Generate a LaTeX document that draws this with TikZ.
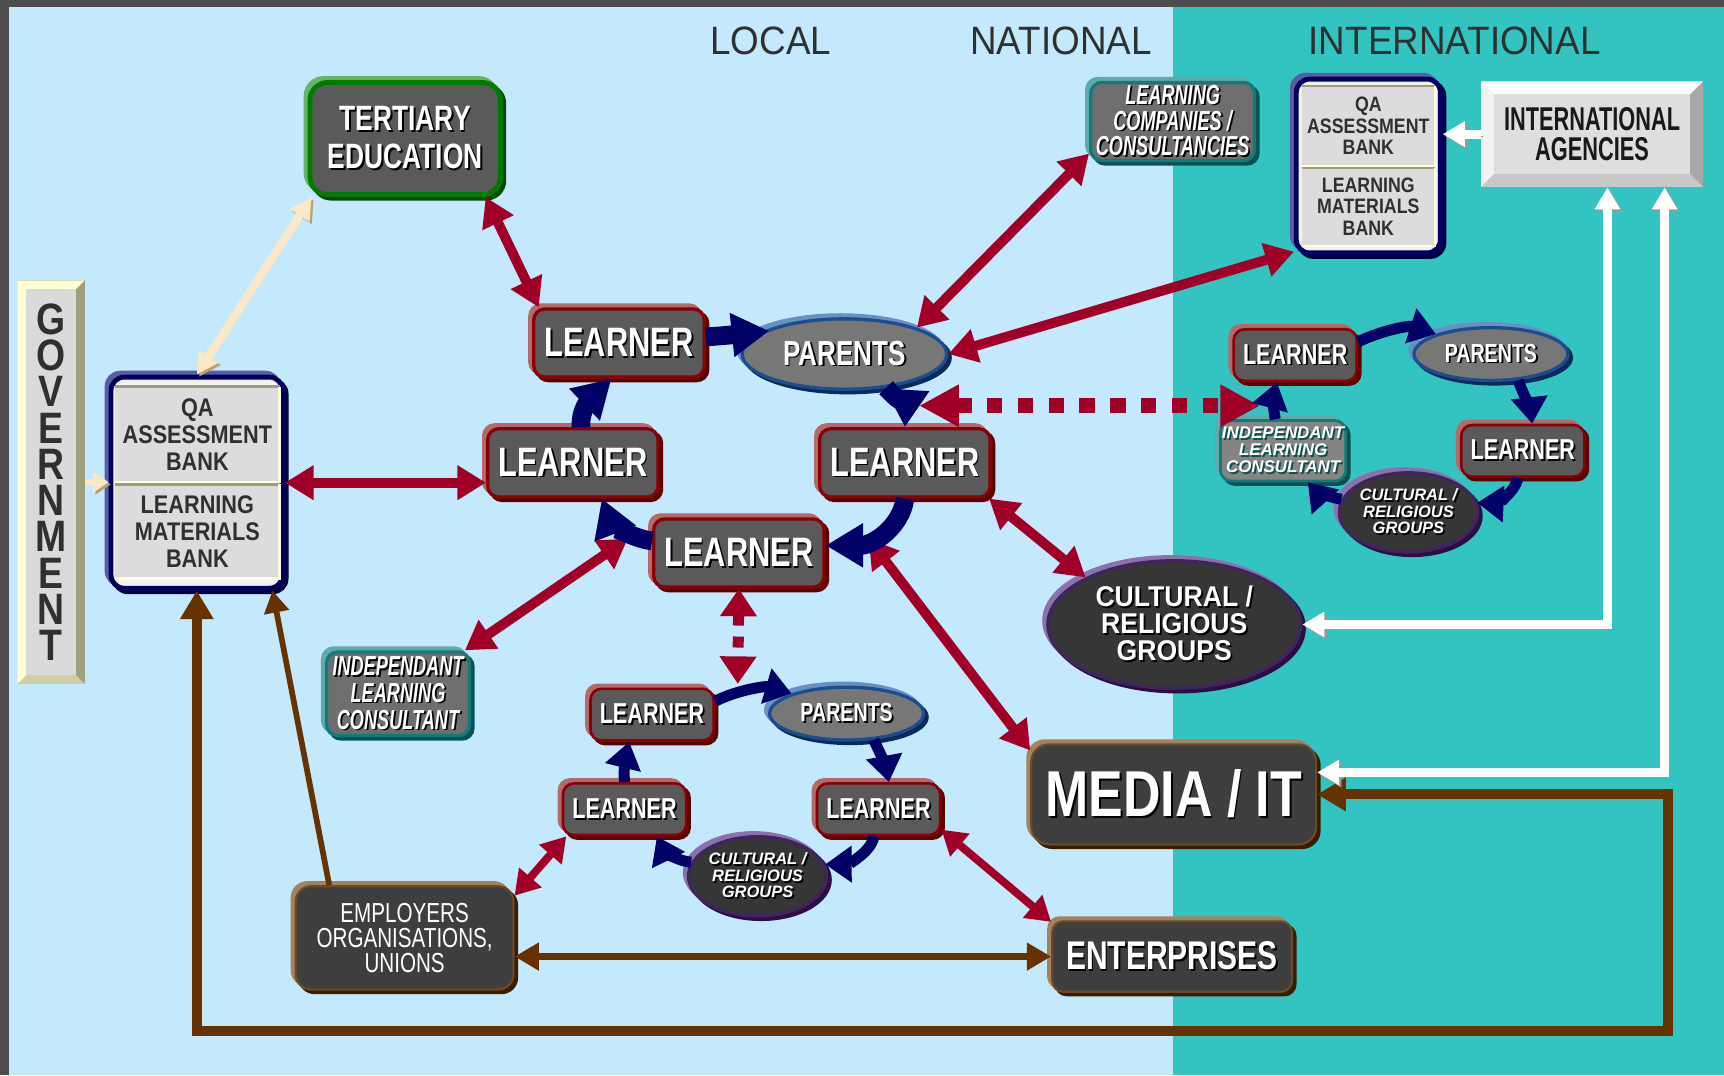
\documentclass[tikz,border=0pt]{standalone}
\usepackage{fontspec}
\setmainfont{Liberation Sans}
\newfontfamily\fC{Liberation Sans}[FakeStretch=0.75]
\newfontfamily\fN{Liberation Sans}[FakeStretch=0.85]
\newfontfamily\fX{Liberation Sans}[FakeStretch=0.66]
\newfontfamily\fH{Liberation Sans}[FakeStretch=0.93]
\newfontfamily\fM{Liberation Sans}[FakeStretch=0.8]
\usetikzlibrary{arrows.meta,shapes.geometric}
\definecolor{bgblue}{HTML}{C4E8FC}
\definecolor{tealbg}{HTML}{33C3C0}
\definecolor{frame}{HTML}{4D4D4D}
\definecolor{redA}{HTML}{A00028}
\definecolor{navyA}{HTML}{000066}
\definecolor{brownA}{HTML}{663300}
\definecolor{creamA}{HTML}{FAE8C8}
\definecolor{creamS}{HTML}{B8A078}
\definecolor{whiteS}{HTML}{9A9A9A}
\definecolor{boxgray}{HTML}{5A5A5A}
\definecolor{lred}{HTML}{8A0008}
\definecolor{lredhl}{HTML}{B46A6A}
\definecolor{lredsh}{HTML}{5C0000}
\definecolor{grn}{HTML}{007A00}
\definecolor{grnhl}{HTML}{66B466}
\definecolor{grnsh}{HTML}{004A00}
\definecolor{tl}{HTML}{137A7A}
\definecolor{tlhl}{HTML}{62AAAA}
\definecolor{tlsh}{HTML}{0A5252}
\definecolor{tlfill}{HTML}{6E6E6E}
\definecolor{pb}{HTML}{1D4D8E}
\definecolor{pbhl}{HTML}{6990C2}
\definecolor{pbsh}{HTML}{0A2A5A}
\definecolor{pfill}{HTML}{777777}
\definecolor{pu}{HTML}{40245E}
\definecolor{puhl}{HTML}{8C72AA}
\definecolor{push}{HTML}{2A0E44}
\definecolor{cfill}{HTML}{363636}
\definecolor{tanA}{HTML}{A3825F}
\definecolor{tanB}{HTML}{6A4A2A}
\definecolor{tansh}{HTML}{3C1C00}
\definecolor{mfill}{HTML}{3E3E3E}
\definecolor{nv}{HTML}{00005E}
\definecolor{nvhl}{HTML}{5A5CA4}
\definecolor{nvsh}{HTML}{000040}
\definecolor{qain}{HTML}{F2F2F2}
\definecolor{panel}{HTML}{DCDCDC}
\definecolor{olv}{HTML}{A09C78}
\definecolor{crm}{HTML}{FFFFE0}
\definecolor{txt}{HTML}{303030}
\definecolor{govlt}{HTML}{FFFFD4}
\definecolor{govdk}{HTML}{A0A07E}
\definecolor{govbt}{HTML}{CFCFA6}
\definecolor{govin}{HTML}{DADADA}
\definecolor{iaR}{HTML}{A8A8A8}
\definecolor{iaB}{HTML}{C8C8C8}
\definecolor{iaL}{HTML}{F2F2F2}
\definecolor{iaIn}{HTML}{DEDEDE}
\definecolor{milcfill}{HTML}{858585}
\newcommand\sh[2][black]{\leavevmode\rlap{\kern0.8pt\raisebox{-0.8pt}{\textcolor{#1}{#2}}}#2}
\tikzset{
  b3d/.style n args={3}{draw=#1,
     preaction={fill=#2,draw=#2,transform canvas={shift={(-1.8pt,1.8pt)}}},
     preaction={fill=#3,draw=#3,transform canvas={shift={(1.6pt,-1.6pt)}}}},
  rb/.style={rectangle, rounded corners=5pt, inner sep=0pt, align=center, text=white},
  head/.style={font=\fH\fontsize{18}{20}\selectfont, text=txt, inner sep=0pt},
  learner/.style={rb, fill=boxgray, line width=1.5pt, b3d={lred}{lredhl}{lredsh},
     minimum width=77.5pt, minimum height=31pt, font=\fC\bfseries\fontsize{18.7}{20}\selectfont},
  mlearner/.style={rb, fill=boxgray, line width=1.2pt, b3d={lred}{lredhl}{lredsh},
     minimum width=56pt, minimum height=23.5pt, font=\fC\bfseries\fontsize{13.1}{14}\selectfont},
  par/.style={ellipse, inner sep=0pt, fill=pfill, line width=1.5pt, b3d={pb}{pbhl}{pbsh}, text=white},
  cultst/.style={ellipse, inner sep=0pt, fill=cfill, line width=1.5pt, b3d={pu}{puhl}{push}, text=white, align=center},
  tbox/.style={rb, fill=tlfill, line width=1.5pt, b3d={tl}{tlhl}{tlsh}},
  dbox/.style={rb, fill=mfill, line width=1pt, b3d={tanB}{tanA}{tansh}},
  qabox/.style={rectangle, rounded corners=6pt, inner sep=0pt, fill=qain, line width=2.2pt, b3d={nv}{nvhl}{nvsh}},
  pnl/.style={rectangle, fill=panel, inner sep=0pt, align=center, text=txt},
  redarr/.style={draw=redA, line width=4.5pt, >={Triangle[length=13pt,width=15pt]}},
  redsm/.style={draw=redA, line width=3.6pt, >={Triangle[length=11pt,width=13pt]}},
  navyM/.style={draw=navyA, line width=8.5pt, -{Triangle[length=17pt,width=19pt]}},
  navyS/.style={draw=navyA, line width=5pt, -{Triangle[length=12pt,width=16pt]}},
  dashR/.style={draw=redA, line width=7pt, dash pattern=on 7pt off 7pt, >={Triangle[length=18pt,width=18pt]}},
  dashV/.style={draw=redA, line width=5pt, dash pattern=on 5pt off 5pt, >={Triangle[length=12.5pt,width=16pt]}},
  wht/.style={draw=white, line width=4pt, preaction={draw=whiteS, transform canvas={shift={(1pt,-1pt)}}}, >={Triangle[length=10pt,width=11pt]}},
  crmA/.style={draw=creamA, line width=3.8pt, preaction={draw=creamS, transform canvas={shift={(1pt,-1pt)}}}, >={Triangle[length=10pt,width=10pt]}},
  brn/.style={draw=brownA, >={Triangle[length=13pt,width=14.5pt]}}
}
\begin{document}
\begin{tikzpicture}[x=0.5pt,y=-0.5pt]
\useasboundingbox (0,0) rectangle (1568,978);
\fill[bgblue] (0,0) rectangle (1568,978);
\fill[tealbg] (1067,0) rectangle (1568,978);
\fill[frame] (0,0) rectangle (1568,6);
\fill[frame] (0,0) rectangle (8,978);

% headings
\node[head] (hL) at (701,37) {LOCAL};
\node[head] (hN) at (965,37) {NATIONAL};
\node[head] (hI) at (1323,37) {INTERNATIONAL};

% government
\fill[govdk] (16,255) rectangle (77,622);
\fill[govbt] (16,622) -- (24,614) -- (69,614) -- (77,622) -- cycle;
\fill[govlt] (16,255) -- (77,255) -- (69,263) -- (24,263) -- (24,614) -- (16,622) -- cycle;
\fill[govin] (24,263) rectangle (69,614);
\node[font=\fN\bfseries\fontsize{20}{16.5}\selectfont, text=txt, align=center, minimum width=30.5pt, minimum height=183.5pt, inner sep=0pt] (gov) at (46.5,438.5) {G\\O\\V\\E\\R\\N\\M\\E\\N\\T};

% international agencies
\fill[iaR] (1347,74) rectangle (1549,170);
\fill[iaB] (1347,170) -- (1359,158) -- (1537,158) -- (1549,170) -- cycle;
\fill[white] (1347,74) -- (1549,74) -- (1537,86) -- (1359,86) -- cycle;
\fill[iaL] (1347,74) -- (1359,86) -- (1359,158) -- (1347,170) -- cycle;
\fill[iaIn] (1359,86) rectangle (1537,158);
\node[font=\fX\bfseries\fontsize{15}{14}\selectfont, text=black!90, align=center, minimum width=101pt, minimum height=48pt, inner sep=0pt] (ia) at (1448,122) {INTERNATIONAL\\AGENCIES};

% QA banks
\node[qabox, minimum width=78pt, minimum height=96pt] (qa) at (179,439) {};
\node[pnl, minimum width=74.5pt, minimum height=43pt, font=\fN\bfseries\fontsize{11.6}{12.25}\selectfont] (qa1) at (179.5,395) {QA\\ASSESSMENT\\BANK};
\node[pnl, minimum width=74.5pt, minimum height=42.5pt, font=\fN\bfseries\fontsize{11.6}{12.25}\selectfont] (qa2) at (179.5,483.5) {LEARNING\\MATERIALS\\BANK};
\draw[olv, line width=1.2pt] (qa1.north west) -- (qa1.north east);
\draw[crm, line width=1.2pt] (qa1.north east) -- (qa1.south east) -- (qa1.south west);
\draw[olv, line width=1.2pt] (qa2.north west) -- (qa2.north east);
\draw[crm, line width=1.2pt] (qa2.north east) -- (qa2.south east) -- (qa2.south west);

\node[qabox, minimum width=65.5pt, minimum height=79pt] (qaR) at (1244.5,151) {};
\node[pnl, minimum width=60pt, minimum height=36pt, font=\fN\bfseries\fontsize{9.5}{9.75}\selectfont] (qaR1) at (1244.5,114.5) {QA\\ASSESSMENT\\BANK};
\node[pnl, minimum width=60pt, minimum height=35pt, font=\fN\bfseries\fontsize{9.5}{9.75}\selectfont] (qaR2) at (1244.5,188) {LEARNING\\MATERIALS\\BANK};
\draw[olv, line width=1pt] (qaR1.north west) -- (qaR1.north east);
\draw[crm, line width=1pt] (qaR1.north east) -- (qaR1.south east) -- (qaR1.south west);
\draw[olv, line width=1pt] (qaR2.north west) -- (qaR2.north east);
\draw[crm, line width=1pt] (qaR2.north east) -- (qaR2.south east) -- (qaR2.south west);

% tertiary
\node[rb, fill=boxgray, line width=2.2pt, b3d={grn}{grnhl}{grnsh}, rounded corners=8pt, minimum width=86.5pt, minimum height=51pt, font=\fC\bfseries\fontsize{16}{17.5}\selectfont] (tert) at (368.5,126) {\sh{TERTIARY}\\\sh{EDUCATION}};

% teal boxes
\node[tbox, minimum width=74.5pt, minimum height=35.5pt, font=\fX\bfseries\itshape\fontsize{12.5}{11.75}\selectfont] (LC) at (1066.5,110.5) {\sh{LEARNING}\\\sh{COMPANIES /}\\\sh{CONSULTANCIES}};
\node[tbox, minimum width=65pt, minimum height=38pt, font=\fX\bfseries\itshape\fontsize{12.5}{12.25}\selectfont] (ilc) at (362,631) {\sh{INDEPENDANT}\\\sh{LEARNING}\\\sh{CONSULTANT}};
\node[tbox, fill=milcfill, line width=1.2pt, minimum width=57pt, minimum height=27.5pt, font=\bfseries\itshape\fontsize{7.7}{7.75}\selectfont] (milc) at (1167,410) {\sh[tlsh]{INDEPENDANT}\\\sh[tlsh]{LEARNING}\\\sh[tlsh]{CONSULTANT}};

% main cycle
\node[learner] (L1) at (563,312) {\sh{LEARNER}};
\node[learner] (L2) at (521,421) {\sh{LEARNER}};
\node[learner] (L3) at (823,421) {\sh{LEARNER}};
\node[learner] (L4) at (672,503) {\sh{LEARNER}};
\node[par, minimum width=93pt, minimum height=32pt, font=\fC\bfseries\fontsize{15.8}{17}\selectfont] (P) at (768,322) {\sh{PARENTS}};

% right mini cycle
\node[mlearner] (mR1) at (1178,323) {\sh{LEARNER}};
\node[mlearner] (mR2) at (1385,410) {\sh{LEARNER}};
\node[par, minimum width=70pt, minimum height=24pt, font=\fC\bfseries\fontsize{11.9}{13}\selectfont] (mPR) at (1356,322) {\sh{PARENTS}};
\node[cultst, minimum width=62pt, minimum height=36pt, font=\bfseries\itshape\fontsize{7.5}{7.5}\selectfont] (mCR) at (1281,466) {\sh{CULTURAL /}\\\sh{RELIGIOUS}\\\sh{GROUPS}};

% bottom mini cycle
\node[mlearner] (mB1) at (593,650) {\sh{LEARNER}};
\node[mlearner] (mB2) at (568,736) {\sh{LEARNER}};
\node[mlearner] (mB3) at (799,736) {\sh{LEARNER}};
\node[par, minimum width=70pt, minimum height=24pt, font=\fC\bfseries\fontsize{11.9}{13}\selectfont] (mPB) at (770,649) {\sh{PARENTS}};
\node[cultst, minimum width=62pt, minimum height=36pt, font=\bfseries\itshape\fontsize{7.5}{7.5}\selectfont] (mCB) at (689,797) {\sh{CULTURAL /}\\\sh{RELIGIOUS}\\\sh{GROUPS}};

% big cultural
\node[cultst, minimum width=115pt, minimum height=58pt, font=\fH\bfseries\fontsize{13}{12.25}\selectfont] (cult) at (1068,568) {\sh{CULTURAL /}\\\sh{RELIGIOUS}\\\sh{GROUPS}};

% dark boxes
\node[dbox, rounded corners=8pt, minimum width=129.5pt, minimum height=45.5pt, font=\fM\bfseries\fontsize{29.5}{30}\selectfont] (media) at (1067.5,722.5) {\sh{MEDIA / IT}};
\node[dbox, minimum width=109pt, minimum height=32pt, font=\fC\bfseries\fontsize{18.2}{19}\selectfont] (ent) at (1066,870) {\sh{ENTERPRISES}};
\node[dbox, rounded corners=7pt, minimum width=99pt, minimum height=47pt, font=\fC\fontsize{12.5}{11.5}\selectfont] (emp) at (368,853) {EMPLOYERS\\ORGANISATIONS,\\UNIONS};

% free ends
\coordinate (c24) at (571,490);
\coordinate (c47) at (790,490);
\coordinate (cdL) at (836,369);
\coordinate (cdR) at (1146,369);
\coordinate (cdB) at (671,622);
\coordinate (loopC) at (1517,938);

% brown
\draw[brn, line width=4.5pt, <->] (qa.south) |- (loopC) |- (media.east);
\draw[brn, line width=3.4pt, <->, >={Triangle[length=11pt,width=12pt]}] (emp.east |- ent.west) -- (ent.west);
\draw[brn, line width=2.6pt, ->, >={Triangle[length=10pt,width=11pt]}] (emp.145.4) -- (qa.-55.5);

% white
\draw[wht, ->] (ia.west) -- (ia.west -| qaR.east);
\draw[wht, <->] ([xshift=7pt]ia.south) |- (cult.east);
\draw[wht, <->] ([xshift=33pt]ia.south) |- ([yshift=10pt]media.east);

% cream
\draw[crmA, <->] (qa.north) -- (tert.-148);
\draw[crmA, line width=3pt, ->, >={Triangle[length=7pt,width=9pt]}] (gov.east) -- (gov.east -| qa.west);

% red
\draw[redarr, <->] (tert.-36.7) -- (L1.156.6);
\draw[redarr, <->] (qa.east) -- (qa.east -| L2.west);
\draw[redarr, <->] (c24) -- (ilc.33.5);
\draw[redarr, <->] (P.20) -- (LC.201);
\draw[redarr, <->] (P.east) -- (qaR.229);
\draw[redarr, <->] (L3.-23) -- (cult.152);
\draw[redarr, <->] (c47) -- (media.163);
\draw[redsm, <->] (mB2.205) -- (emp.21.4);
\draw[redsm, <->] (mB3.-18.7) -- (ent.164);
\draw[dashR, <->] (cdL) -- (cdR);
\draw[dashV, <->] (L4.south) -- (cdB);

% navy main cycle
\draw[navyM, shorten >=-3.5pt] (L1.4) .. controls (662,305) and (672,304) .. (P.165.8);
\draw[navyM] (P.-39) .. controls (815,362) and (824,372) .. (L3.north);
\draw[navyM] (L3.south) .. controls (820,478) and (795,496) .. (L4.5);
\draw[navyM] (L4.172) .. controls (575,490) and (556,476) .. (L2.-51);
\draw[navyM] (L2.77.3) .. controls (527,370) and (541,359) .. (L1.-102.7);

% navy right mini
\draw[navyS] (mR1.12) .. controls (1258,300) and (1282,296) .. (mPR.160.5);
\draw[navyS] (mPR.-44) .. controls (1386,360) and (1392,372) .. (mR2.71.6);
\draw[navyS] (mR2.-100) .. controls (1378,448) and (1360,458) .. (mCR.8);
\draw[navyS] (mCR.169) .. controls (1208,452) and (1196,446) .. (milc.-52.6);
\draw[navyS] (milc.104) .. controls (1158,372) and (1158,360) .. (mR1.-124.2);

% navy bottom mini
\draw[navyS] (mB1.12) .. controls (672,627) and (697,624) .. (mPB.160.5);
\draw[navyS] (mPB.-44) .. controls (800,684) and (806,698) .. (mB3.69);
\draw[navyS] (mB3.-100) .. controls (793,775) and (770,786) .. (mCB.10);
\draw[navyS] (mCB.168) .. controls (614,783) and (603,772) .. (mB2.-40);
\draw[navyS] (mB2.north) .. controls (567,700) and (569,688) .. (mB1.-130.4);
\end{tikzpicture}
\end{document}
